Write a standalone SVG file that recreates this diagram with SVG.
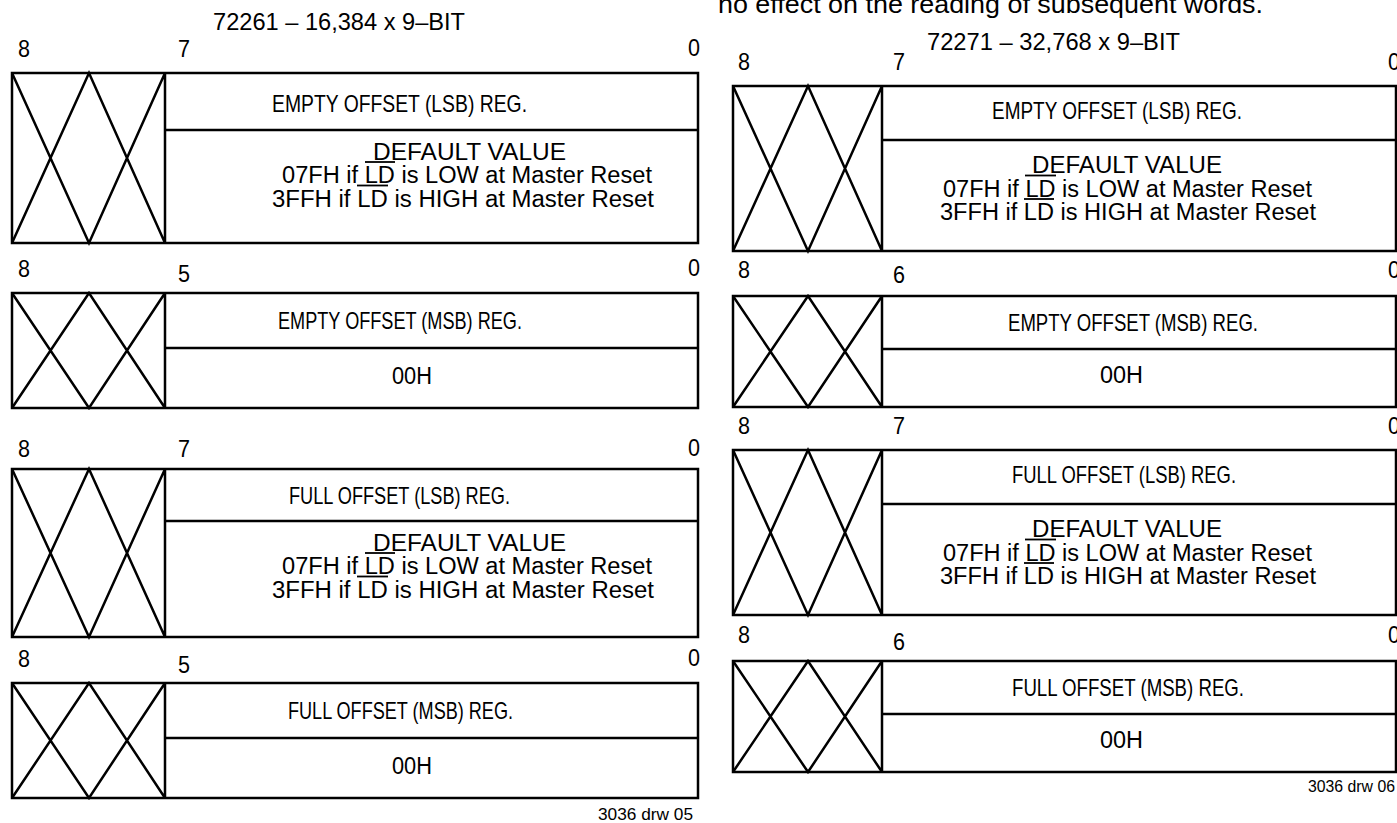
<svg xmlns="http://www.w3.org/2000/svg" width="1397" height="823" viewBox="0 0 1397 823">
<style>
.bx{fill:none;stroke:#000;stroke-width:2.5}
.ln{fill:none;stroke:#000;stroke-width:2.5}
.ol{stroke:#000;stroke-width:1.8}
text{font-family:"Liberation Sans",Arial,sans-serif;fill:#000}
.h{font-size:24.5px}
.t{font-size:23px}
.n{font-size:23px}
.d{font-size:23.5px}
.s{font-size:17px}
</style>
<rect width="1397" height="823" fill="#fff"/>

<text x="718" y="13" textLength="545" lengthAdjust="spacingAndGlyphs" style="font-size:26px">no effect on the reading of subsequent words.</text>

<!-- LEFT PANEL -->
<g id="left-title">
<text class="t" x="213" y="30" textLength="252" lengthAdjust="spacingAndGlyphs">72261 – 16,384 x 9–BIT</text>
</g>

<g id="L-empty-lsb">
<text class="n" x="18" y="57" textLength="12" lengthAdjust="spacingAndGlyphs">8</text>
<text class="n" x="178" y="57" textLength="12" lengthAdjust="spacingAndGlyphs">7</text>
<text class="n" x="688" y="56" textLength="12" lengthAdjust="spacingAndGlyphs">0</text>
<rect class="bx" x="12" y="73" width="686" height="170"/>
<path class="ln" d="M12,73 L89,243 L165,73 M12,243 L89,73 L165,243 M165,73 V243 M165,130 H698"/>
<text class="h" x="272" y="112" textLength="255" lengthAdjust="spacingAndGlyphs">EMPTY OFFSET (LSB) REG.</text>
<text class="d" x="373" y="159.5" textLength="193" lengthAdjust="spacingAndGlyphs">DEFAULT VALUE</text>
<text class="d" x="282" y="183" textLength="370" lengthAdjust="spacingAndGlyphs">07FH if LD is LOW at Master Reset</text>
<text class="d" x="272" y="206.5" textLength="382" lengthAdjust="spacingAndGlyphs">3FFH if LD is HIGH at Master Reset</text>
<line class="ol" x1="365" y1="162" x2="395" y2="162"/>
<line class="ol" x1="357" y1="185.5" x2="388" y2="185.5"/>
</g>

<g id="L-empty-msb">
<text class="n" x="18" y="277" textLength="12" lengthAdjust="spacingAndGlyphs">8</text>
<text class="n" x="178" y="282" textLength="12" lengthAdjust="spacingAndGlyphs">5</text>
<text class="n" x="688" y="276" textLength="12" lengthAdjust="spacingAndGlyphs">0</text>
<rect class="bx" x="12" y="293" width="686" height="115"/>
<path class="ln" d="M12,293 L89,408 L165,293 M12,408 L89,293 L165,408 M165,293 V408 M165,348 H698"/>
<text class="h" x="278" y="329" textLength="244" lengthAdjust="spacingAndGlyphs">EMPTY OFFSET (MSB) REG.</text>
<text class="h" x="392" y="384" textLength="40" lengthAdjust="spacingAndGlyphs">00H</text>
</g>

<g id="L-full-lsb">
<text class="n" x="18" y="457" textLength="12" lengthAdjust="spacingAndGlyphs">8</text>
<text class="n" x="178" y="457" textLength="12" lengthAdjust="spacingAndGlyphs">7</text>
<text class="n" x="688" y="456" textLength="12" lengthAdjust="spacingAndGlyphs">0</text>
<rect class="bx" x="12" y="469" width="686" height="168"/>
<path class="ln" d="M12,469 L89,637 L165,469 M12,637 L89,469 L165,637 M165,469 V637 M165,521 H698"/>
<text class="h" x="289" y="504" textLength="221" lengthAdjust="spacingAndGlyphs">FULL OFFSET (LSB) REG.</text>
<text class="d" x="373" y="550.5" textLength="193" lengthAdjust="spacingAndGlyphs">DEFAULT VALUE</text>
<text class="d" x="282" y="574" textLength="370" lengthAdjust="spacingAndGlyphs">07FH if LD is LOW at Master Reset</text>
<text class="d" x="272" y="597.5" textLength="382" lengthAdjust="spacingAndGlyphs">3FFH if LD is HIGH at Master Reset</text>
<line class="ol" x1="365" y1="553" x2="395" y2="553"/>
<line class="ol" x1="357" y1="576.5" x2="388" y2="576.5"/>
</g>

<g id="L-full-msb">
<text class="n" x="18" y="667" textLength="12" lengthAdjust="spacingAndGlyphs">8</text>
<text class="n" x="178" y="673" textLength="12" lengthAdjust="spacingAndGlyphs">5</text>
<text class="n" x="688" y="666" textLength="12" lengthAdjust="spacingAndGlyphs">0</text>
<rect class="bx" x="12" y="683" width="686" height="115"/>
<path class="ln" d="M12,683 L89,798 L165,683 M12,798 L89,683 L165,798 M165,683 V798 M165,738 H698"/>
<text class="h" x="288" y="719" textLength="225" lengthAdjust="spacingAndGlyphs">FULL OFFSET (MSB) REG.</text>
<text class="h" x="392" y="774" textLength="40" lengthAdjust="spacingAndGlyphs">00H</text>
<text class="s" x="598" y="820" textLength="95" lengthAdjust="spacingAndGlyphs">3036 drw 05</text>
</g>

<!-- RIGHT PANEL -->
<g id="right-title">
<text class="t" x="927" y="50" textLength="253" lengthAdjust="spacingAndGlyphs">72271 – 32,768 x 9–BIT</text>
</g>

<g id="R-empty-lsb">
<text class="n" x="738" y="70" textLength="12" lengthAdjust="spacingAndGlyphs">8</text>
<text class="n" x="893" y="70" textLength="12" lengthAdjust="spacingAndGlyphs">7</text>
<text class="n" x="1388" y="70" textLength="12" lengthAdjust="spacingAndGlyphs">0</text>
<rect class="bx" x="733" y="86" width="663" height="165"/>
<path class="ln" d="M733,86 L808,251 L882,86 M733,251 L808,86 L882,251 M882,86 V251 M882,140 H1396"/>
<text class="h" x="992" y="119" textLength="250" lengthAdjust="spacingAndGlyphs">EMPTY OFFSET (LSB) REG.</text>
<text class="d" x="1032" y="173" textLength="190" lengthAdjust="spacingAndGlyphs">DEFAULT VALUE</text>
<text class="d" x="943" y="196.5" textLength="369" lengthAdjust="spacingAndGlyphs">07FH if LD is LOW at Master Reset</text>
<text class="d" x="940" y="220" textLength="376" lengthAdjust="spacingAndGlyphs">3FFH if LD is HIGH at Master Reset</text>
<line class="ol" x1="1025" y1="175.5" x2="1056" y2="175.5"/>
<line class="ol" x1="1024" y1="199" x2="1054" y2="199"/>
</g>

<g id="R-empty-msb">
<text class="n" x="738" y="278" textLength="12" lengthAdjust="spacingAndGlyphs">8</text>
<text class="n" x="893" y="283" textLength="12" lengthAdjust="spacingAndGlyphs">6</text>
<text class="n" x="1388" y="278" textLength="12" lengthAdjust="spacingAndGlyphs">0</text>
<rect class="bx" x="733" y="296" width="663" height="111"/>
<path class="ln" d="M733,296 L808,407 L882,296 M733,407 L808,296 L882,407 M882,296 V407 M882,349 H1396"/>
<text class="h" x="1008" y="331" textLength="250" lengthAdjust="spacingAndGlyphs">EMPTY OFFSET (MSB) REG.</text>
<text class="h" x="1100" y="383" textLength="43" lengthAdjust="spacingAndGlyphs">00H</text>
</g>

<g id="R-full-lsb">
<text class="n" x="738" y="434" textLength="12" lengthAdjust="spacingAndGlyphs">8</text>
<text class="n" x="893" y="434" textLength="12" lengthAdjust="spacingAndGlyphs">7</text>
<text class="n" x="1388" y="434" textLength="12" lengthAdjust="spacingAndGlyphs">0</text>
<rect class="bx" x="733" y="450" width="663" height="165"/>
<path class="ln" d="M733,450 L808,615 L882,450 M733,615 L808,450 L882,615 M882,450 V615 M882,504 H1396"/>
<text class="h" x="1012" y="483" textLength="224" lengthAdjust="spacingAndGlyphs">FULL OFFSET (LSB) REG.</text>
<text class="d" x="1032" y="537" textLength="190" lengthAdjust="spacingAndGlyphs">DEFAULT VALUE</text>
<text class="d" x="943" y="560.5" textLength="369" lengthAdjust="spacingAndGlyphs">07FH if LD is LOW at Master Reset</text>
<text class="d" x="940" y="584" textLength="376" lengthAdjust="spacingAndGlyphs">3FFH if LD is HIGH at Master Reset</text>
<line class="ol" x1="1025" y1="539.5" x2="1056" y2="539.5"/>
<line class="ol" x1="1024" y1="563" x2="1054" y2="563"/>
</g>

<g id="R-full-msb">
<text class="n" x="738" y="643" textLength="12" lengthAdjust="spacingAndGlyphs">8</text>
<text class="n" x="893" y="650" textLength="12" lengthAdjust="spacingAndGlyphs">6</text>
<text class="n" x="1388" y="643" textLength="12" lengthAdjust="spacingAndGlyphs">0</text>
<rect class="bx" x="733" y="661" width="663" height="111"/>
<path class="ln" d="M733,661 L808,772 L882,661 M733,772 L808,661 L882,772 M882,661 V772 M882,714 H1396"/>
<text class="h" x="1012" y="696" textLength="232" lengthAdjust="spacingAndGlyphs">FULL OFFSET (MSB) REG.</text>
<text class="h" x="1100" y="748" textLength="43" lengthAdjust="spacingAndGlyphs">00H</text>
<text class="s" x="1308" y="792" textLength="87" lengthAdjust="spacingAndGlyphs">3036 drw 06</text>
</g>

<g id="connectors"></g>
</svg>
